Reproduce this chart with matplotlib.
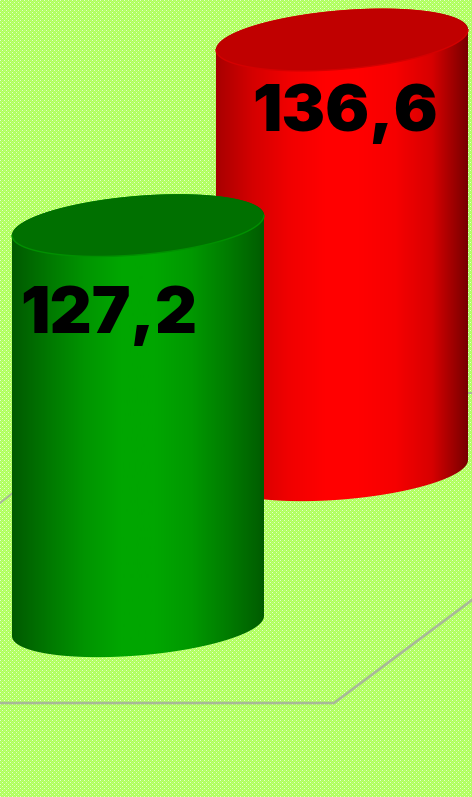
import numpy as np
import matplotlib
matplotlib.use("Agg")
import matplotlib.pyplot as plt
from matplotlib.patches import PathPatch
from matplotlib.path import Path
from matplotlib.colors import LinearSegmentedColormap, to_rgb

plt.rcParams["text.kerning_factor"] = 12

values = [127.2, 136.6]
labels = ["127,2", "136,6"]
x_left = [12, 216]
x_right = [264, 468]
base_y = [626, 470]   # y of the base centre, pixels
label_xy = [(109, 333), (345, 131)]
side_stops = [
    ["#005a00", "#007800", "#009400", "#00a600", "#00a600", "#009800", "#007c00", "#005c00"],
    ["#a80000", "#d40000", "#f00000", "#ff0000", "#ff0000", "#f60000", "#d80000", "#780000"],
]
top_colors = ["#007000", "#c00000"]
rim_colors = ["#009000", "#d40000"]
PX_PER_UNIT = 3.15
TILT = 10.0
MINOR = 29.5
W, H = 472, 797

fig = plt.figure(figsize=(W / 100, H / 100), dpi=100)
ax = fig.add_axes([0, 0, 1, 1])
ax.set_xlim(0, W)
ax.set_ylim(H, 0)
ax.axis("off")

# dithered paper background, one pixel per cell
yy, xx = np.mgrid[0:H, 0:W]
bg = np.zeros((H, W, 3))
bg[:] = to_rgb("#aeff5a")
bg[(xx + yy) % 2 == 0] = to_rgb("#b8ff70")
bg[((xx % 4 == 0) & (yy % 4 == 0)) | ((xx % 4 == 2) & (yy % 4 == 2))] = to_rgb("#e4ffc8")
fig.figimage(bg, 0, 0, zorder=-5, origin="upper", resize=False)

# floor and wall lines
grid = "#a8b898"
ax.plot([0, 334, 472], [703, 703, 600], color=grid, lw=1.9, zorder=1, solid_joinstyle="miter")
ax.plot([0, 14], [503, 492], color=grid, lw=1.4, zorder=1)
ax.plot([466, 472], [393, 393], color=grid, lw=1.4, zorder=1)


def ring(cx, cy, a, t0=0, t1=2 * np.pi, n=200):
    t = np.linspace(t0, t1, n)
    return cx + a * np.cos(t), cy - TILT * np.cos(t) + MINOR * np.sin(t)


for i in [1, 0]:
    z = 3 + (1 - i) * 3
    a = (x_right[i] - x_left[i]) / 2
    cx = (x_right[i] + x_left[i]) / 2
    by = base_y[i]
    ty = by - values[i] * PX_PER_UNIT
    # outline of the side: lower half of base ring + upper half of top ring
    xb, yb = ring(cx, by, a, 0, np.pi)
    xt, yt = ring(cx, ty, a, np.pi, 2 * np.pi)
    verts = np.column_stack([np.r_[xb, xt], np.r_[yb, yt]])
    path = Path(np.vstack([verts, verts[0]]), closed=True)
    patch = PathPatch(path, fc="none", ec="none", zorder=z)
    ax.add_patch(patch)
    cmap = LinearSegmentedColormap.from_list("s", side_stops[i])
    im = ax.imshow(np.linspace(0, 1, 256)[None, :], cmap=cmap, aspect="auto",
                   extent=(x_left[i], x_right[i], H, 0), zorder=z,
                   interpolation="bilinear")
    im.set_clip_path(patch)
    xr, yr = ring(cx, ty, a)
    ax.fill(xr, yr, fc=top_colors[i], ec="none", zorder=z + 1)
    xf, yf = ring(cx, ty, a, 0, np.pi)
    ax.plot(xf, yf, color=rim_colors[i], lw=1.0, zorder=z + 1)
    ax.text(label_xy[i][0], label_xy[i][1], labels[i], ha="center", va="baseline",
            family="Inter", weight=900, fontsize=47, color="black", zorder=z + 2)

ax.set_xlim(0, W)
ax.set_ylim(H, 0)
fig.savefig("out.png", dpi=100)
